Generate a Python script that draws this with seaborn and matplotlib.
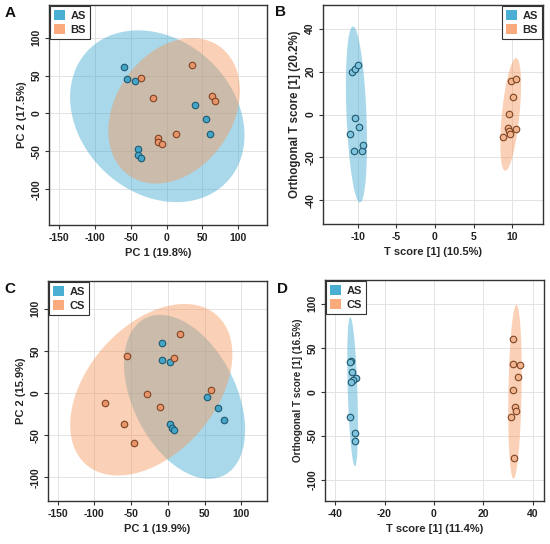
import numpy as np
import pandas as pd
import matplotlib
matplotlib.use('Agg')
import matplotlib.pyplot as plt
from matplotlib.patches import Patch
import seaborn as sns

# ---- data ----
# A: PCA, AS vs BS
a_as_x = [-59.7, -55.5, -43.8, 40.1, 55.5, 60.6, -39.2, -39.2, -35.4]
a_as_y = [61.5, 45.5, 42.9, 11.7, -6.9, -27.7, -46.8, -54.1, -58.9]
a_bs_x = [35.9, -36.4, -19.1, 63.9, 68.1, 13.1, -11.7, -12.6, -7.0]
a_bs_y = [64.1, 46.8, 19.9, 22.5, 16.5, -27.3, -32.5, -38.1, -40.7]

# B: OPLS-DA, AS vs BS
b_as_x = [-10.74, -10.39, -9.96, -10.35, -9.83, -10.95, -10.48, -9.48, -9.31]
b_as_y = [19.6, 21.3, 22.9, -1.4, -5.6, -8.9, -16.8, -16.8, -14.3]
b_bs_x = [9.83, 10.52, 10.13, 9.65, 9.44, 9.65, 9.74, 10.56, 8.79]
b_bs_y = [15.6, 16.5, 8.1, 0.3, -6.2, -7.6, -9.0, -6.7, -10.7]

# C: PCA, AS vs CS
c_as_x = [-7.3, -7.3, 3.6, 53.3, 68.8, 77.0, 2.7, 5.5, 8.7]
c_as_y = [59.1, 39.7, 37.3, -4.4, -17.9, -32.1, -36.5, -41.3, -44.0]
c_cs_x = [16.4, -56.0, 8.2, 58.7, -28.2, -85.6, -10.0, -59.2, -46.4]
c_cs_y = [70.6, 44.4, 42.1, 4.0, -1.6, -11.5, -16.3, -36.5, -59.1]

# D: OPLS-DA, AS vs CS
d_as_x = [-33.7, -33.9, -33.0, -31.7, -32.6, -33.4, -34.0, -32.0, -32.0]
d_as_y = [34.7, 34.2, 23.0, 15.8, 13.6, 10.9, -29.0, -46.7, -55.4]
d_cs_x = [32.2, 32.1, 34.9, 34.2, 32.1, 33.0, 33.2, 31.4, 32.5]
d_cs_y = [60.3, 31.6, 30.9, 16.9, 2.3, -16.9, -21.5, -28.2, -74.6]

BLUE_FILL = '#3EA9D1'
ORANGE_FILL = '#F6995D'
BLUE_PT = '#44A5C9'
ORANGE_PT = '#E8946A'
BLUE_PT_LIGHT = '#7FC3DD'
ORANGE_PT_LIGHT = '#F2B48E'
BLUE_EDGE = '#1F5A70'
ORANGE_EDGE = '#7F4424'
LEG_BLUE = '#4BAFD4'
LEG_ORANGE = '#FAAA7D'

sns.set_theme(style='white')
plt.rcParams['font.family'] = ['Liberation Sans', 'DejaVu Sans']
plt.rcParams['font.weight'] = 'bold'
plt.rcParams['axes.unicode_minus'] = False


def ellipse_xy(x, y, k=np.sqrt(5.991), n=200):
    x = np.asarray(x)
    y = np.asarray(y)
    cov = np.cov(x, y)
    vals, vecs = np.linalg.eigh(cov)
    t = np.linspace(0, 2 * np.pi, n)
    circ = np.vstack([np.cos(t), np.sin(t)]) * (k * np.sqrt(vals))[:, None]
    pts = vecs @ circ
    return pts[0] + x.mean(), pts[1] + y.mean()


def draw_panel(ax, g1, g2, names, xlim, ylim, xticks, yticks, xlabel, ylabel,
               legend_loc, light=False, ylab_size=8):
    (x1, y1), (x2, y2) = g1, g2
    ex, ey = ellipse_xy(x1, y1)
    ax.fill(ex, ey, color=BLUE_FILL, alpha=0.45, lw=0, zorder=1)
    ex, ey = ellipse_xy(x2, y2)
    ax.fill(ex, ey, color=ORANGE_FILL, alpha=0.45, lw=0, zorder=1)

    df = pd.DataFrame({
        'x': list(x1) + list(x2),
        'y': list(y1) + list(y2),
        'group': [names[0]] * len(x1) + [names[1]] * len(x2),
    })
    if light:
        pal = {names[0]: BLUE_PT_LIGHT, names[1]: ORANGE_PT_LIGHT}
    else:
        pal = {names[0]: BLUE_PT, names[1]: ORANGE_PT}
    for name, edge in zip(names, [BLUE_EDGE, ORANGE_EDGE]):
        sub = df[df['group'] == name]
        sns.scatterplot(data=sub, x='x', y='y', color=pal[name], s=22,
                        edgecolor=edge, linewidth=0.8, ax=ax, zorder=3,
                        legend=False)

    ax.set_xlim(xlim)
    ax.set_ylim(ylim)
    ax.set_xticks(xticks)
    ax.set_yticks(yticks)
    ax.grid(True, color='#E3E3E3', linewidth=0.7, zorder=0)
    ax.set_axisbelow(True)
    for sp in ax.spines.values():
        sp.set_color('#333333')
        sp.set_linewidth(1.0)
    ax.tick_params(axis='both', direction='out', length=3, width=0.8,
                   color='#333333', labelsize=7.5, pad=2.5,
                   bottom=True, left=True)
    for lab in ax.get_yticklabels():
        lab.set_rotation(90)
        lab.set_va('center')
    for lab in ax.get_xticklabels() + ax.get_yticklabels():
        lab.set_fontweight('bold')
        lab.set_color('#222222')
    ax.set_xlabel(xlabel, fontsize=8, fontweight='bold', labelpad=4)
    ax.set_ylabel(ylabel, fontsize=ylab_size, fontweight='bold', labelpad=3)

    handles = [Patch(facecolor=LEG_BLUE, edgecolor='none', label=names[0]),
               Patch(facecolor=LEG_ORANGE, edgecolor='none', label=names[1])]
    anchor = (0, 1) if legend_loc == 'upper left' else (1, 1)
    leg = ax.legend(handles=handles, loc=legend_loc, bbox_to_anchor=anchor,
                    borderaxespad=0.1, fancybox=False, framealpha=1,
                    handlelength=1.0, handleheight=1.0, handletextpad=0.5,
                    borderpad=0.35, labelspacing=0.3,
                    prop={'size': 8, 'weight': 'bold'})
    leg.get_frame().set_edgecolor('#333333')
    leg.get_frame().set_linewidth(0.8)
    leg.set_zorder(5)


fig = plt.figure(figsize=(5.5, 5.44), dpi=100)
W, H = 550.0, 544.0


def box(l, t, r, b):
    return [l / W, 1 - b / H, (r - l) / W, (b - t) / H]


axA = fig.add_axes(box(49, 5, 267, 225))
axB = fig.add_axes(box(323, 5, 543, 224))
axC = fig.add_axes(box(48, 281, 267, 501))
axD = fig.add_axes(box(325, 280, 544, 501))

draw_panel(axA, (a_as_x, a_as_y), (a_bs_x, a_bs_y), ['AS', 'BS'],
           (-164, 140), (-147, 143), np.arange(-150, 101, 50),
           np.arange(-100, 101, 50), 'PC 1 (19.8%)', 'PC 2 (17.5%)',
           'upper left')
draw_panel(axB, (b_as_x, b_as_y), (b_bs_x, b_bs_y), ['AS', 'BS'],
           (-14.5, 14.0), (-51, 51), np.arange(-10, 11, 5),
           np.arange(-40, 41, 20), 'T score [1] (10.5%)',
           'Orthogonal T score [1] (20.2%)', 'upper right', light=True,
           ylab_size=8.3)
draw_panel(axC, (c_as_x, c_as_y), (c_cs_x, c_cs_y), ['AS', 'CS'],
           (-163, 135), (-128, 133), np.arange(-150, 101, 50),
           np.arange(-100, 101, 50), 'PC 1 (19.9%)', 'PC 2 (15.9%)',
           'upper left')
draw_panel(axD, (d_as_x, d_as_y), (d_cs_x, d_cs_y), ['AS', 'CS'],
           (-44.1, 44.6), (-124, 127), np.arange(-40, 41, 20),
           np.arange(-100, 101, 50), 'T score [1] (11.4%)',
           'Orthogonal T score [1] (16.5%)', 'upper left', light=True,
           ylab_size=7.1)

for letter, (px, py) in zip('ABCD', [(10, 13), (281, 12), (10, 289), (283, 289)]):
    fig.text(px / W, 1 - py / H, letter, fontsize=11, fontweight='bold',
             ha='center', va='center', color='#111111')

fig.savefig('out.png', dpi=100)
plt.close(fig)
